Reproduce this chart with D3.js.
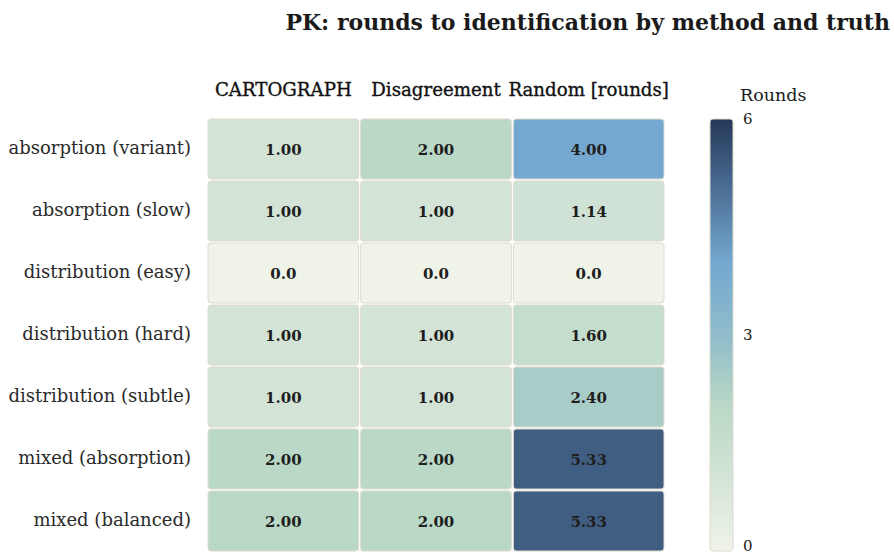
<!DOCTYPE html>
<html><head><meta charset="utf-8">
<script src="https://cdn.jsdelivr.net/npm/d3@7"></script>
<style>body{margin:0;background:#fff} text{font-family:"DejaVu Serif",serif}</style>
</head><body>
<svg id="c" width="894" height="556"></svg>
<script>
// ---- data ----
const methods = ["CARTOGRAPH", "Disagreement", "Random [rounds]"];
const truths = ["absorption (variant)", "absorption (slow)", "distribution (easy)", "distribution (hard)", "distribution (subtle)", "mixed (absorption)", "mixed (balanced)"];
const cartograph   = [1.00, 1.00, 0.0, 1.00, 1.00, 2.00, 2.00];
const disagreement = [2.00, 1.00, 0.0, 1.00, 1.00, 2.00, 2.00];
const random       = [4.00, 1.14, 0.0, 1.60, 2.40, 5.33, 5.33];
const legendTicks  = [0, 3, 6];
const colorStops   = [0, 1, 2, 2.4, 3, 4, 5.33, 6];
const colorValues  = ["#eff3e8", "#d3e4d7", "#bad8c6", "#a8cdc8", "#90bccb", "#74a8d0", "#405d82", "#253858"];

const series = [cartograph, disagreement, random];
const cells = [];
truths.forEach((t, i) => methods.forEach((m, j) => cells.push({truth: t, method: m, value: series[j][i]})));

const svg = d3.select("#c");
const x = d3.scaleBand().domain(methods).range([207, 665]);
const y = d3.scaleBand().domain(truths).range([118, 552]);
const color = d3.scaleLinear().domain(colorStops).range(colorValues).clamp(true);

// title
svg.append("text").attr("x", 890).attr("y", 30).attr("text-anchor", "end")
  .style("font-weight", "bold").style("font-size", "22px").attr("fill", "#1a1a1a")
  .text("PK: rounds to identification by method and truth");

// cells
svg.append("g").selectAll("rect").data(cells).join("rect")
  .attr("x", d => x(d.method) + 1).attr("y", d => y(d.truth) + 1)
  .attr("width", x.bandwidth() - 2).attr("height", y.bandwidth() - 2)
  .attr("rx", 3).attr("ry", 3)
  .attr("fill", d => color(d.value))
  .attr("stroke", "#dedacd").attr("stroke-width", 1);

svg.append("g").selectAll("text").data(cells).join("text")
  .attr("x", d => x(d.method) + x.bandwidth() / 2)
  .attr("y", d => y(d.truth) + y.bandwidth() / 2 + 5.5)
  .attr("text-anchor", "middle").style("font-weight", "bold").style("font-size", "15px")
  .attr("fill", "#1e1e1e")
  .text(d => d.value === 0 ? "0.0" : d3.format(".2f")(d.value));

// column headers
const xAxis = d3.axisTop(x).tickSize(0).tickPadding(0);
const gx = svg.append("g").attr("transform", "translate(0,96)").call(xAxis);
gx.select(".domain").remove();
gx.selectAll("text").attr("y", 0).attr("dy", 0).style("font-family", "DejaVu Serif")
  .style("font-size", "18.2px").attr("fill", "#111")
  .attr("stroke", "#111").attr("stroke-width", 0.35);

// row labels
const yAxis = d3.axisLeft(y).tickSize(0).tickPadding(0);
const gy = svg.append("g").attr("transform", "translate(191,0)").call(yAxis);
gy.select(".domain").remove();
gy.selectAll("text").attr("dy", "0.25em").style("font-family", "DejaVu Serif")
  .style("font-size", "18px").attr("fill", "#2a2a2a");

// legend
const ly = d3.scaleLinear().domain([0, 6]).range([551, 119]);
const defs = svg.append("defs");
const grad = defs.append("linearGradient").attr("id", "lg").attr("x1", 0).attr("y1", 1).attr("x2", 0).attr("y2", 0);
d3.range(0, 6.01, 0.25).forEach(v => grad.append("stop").attr("offset", v / 6).attr("stop-color", color(v)));
svg.append("rect").attr("x", 710).attr("y", ly(6)).attr("width", 23).attr("height", ly(0) - ly(6))
  .attr("rx", 3).attr("fill", "url(#lg)").attr("stroke", "#dedacd").attr("stroke-width", 1);
svg.append("text").attr("x", 740).attr("y", 101).style("font-size", "17.5px").attr("fill", "#1a1a1a").text("Rounds");
const lAxis = d3.axisRight(ly).tickValues(legendTicks).tickSize(0).tickPadding(0).tickFormat(d3.format("d"));
const gl = svg.append("g").attr("transform", "translate(743,0)").call(lAxis);
gl.select(".domain").remove();
gl.selectAll("text").style("font-family", "DejaVu Serif").style("font-size", "15px").attr("fill", "#1a1a1a");
gl.selectAll(".tick").filter(d => d === 0).select("text").attr("dy", "-0.05em");
</script>
</body></html>
